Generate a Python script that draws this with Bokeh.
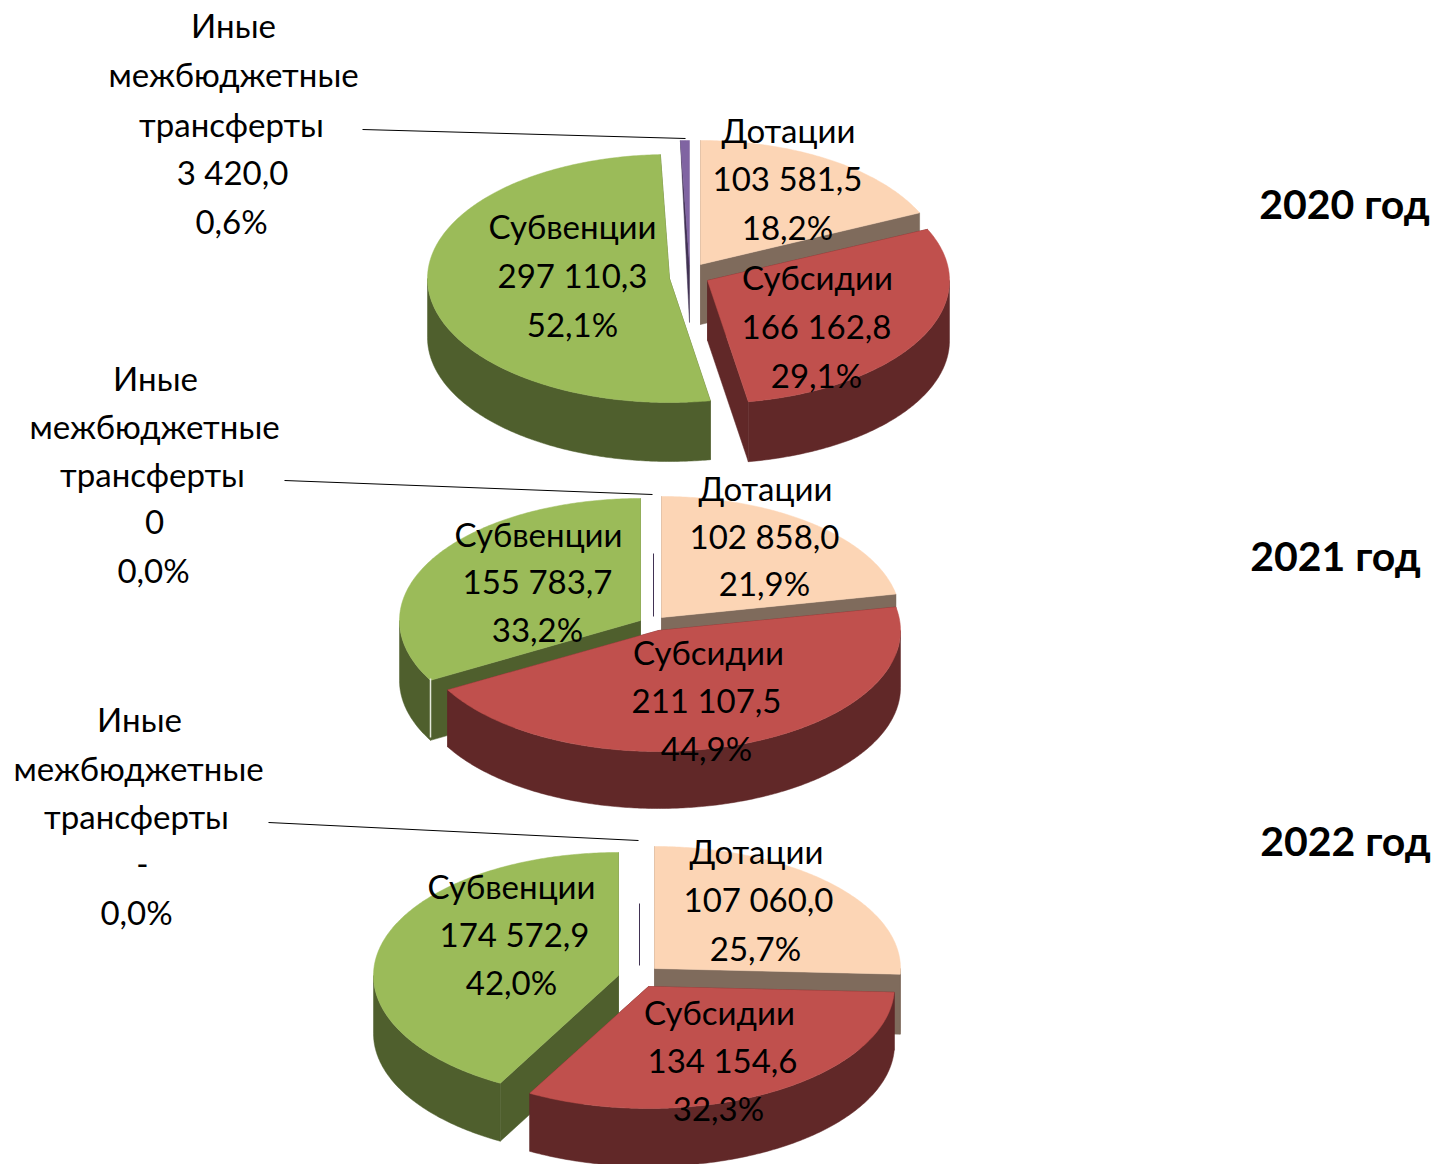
import math
from bokeh.plotting import figure, ColumnDataSource
from bokeh.models import Range1d
from bokeh.core.properties import value
from bokeh.embed import file_html
from bokeh.resources import INLINE

# ---------- data ----------
categories = ["Дотации", "Субсидии", "Субвенции", "Иные межбюджетные трансферты"]
years = ["2020 год", "2021 год", "2022 год"]
values_2020 = [103581.5, 166162.8, 297110.3, 3420.0]
values_2021 = [102858.0, 211107.5, 155783.7, 0.0]
values_2022 = [107060.0, 134154.6, 174572.9, 0.0]
amounts_2020 = ["103 581,5", "166 162,8", "297 110,3", "3 420,0"]
amounts_2021 = ["102 858,0", "211 107,5", "155 783,7", "0"]
amounts_2022 = ["107 060,0", "134 154,6", "174 572,9", "-"]
percents_2020 = ["18,2%", "29,1%", "52,1%", "0,6%"]
percents_2021 = ["21,9%", "44,9%", "33,2%", "0,0%"]
percents_2022 = ["25,7%", "32,3%", "42,0%", "0,0%"]

# ---------- styles / layout ----------
TOP = ["#FCD5B5", "#C0504D", "#9BBB59", "#8064A2"]
SIDE = ["#7F6B5C", "#612828", "#4F5F2D", "#413253"]
FONT = "Lato"
FS = "33px"
TEXT_DY = -2.5

# per slice: apex x, apex y, rx, ry, depth
geom_2020 = [(700, 264, 241, 124, 60), (707, 280, 242, 123, 60), (669, 278, 242, 124, 59), (689, 264, 242, 124, 58)]
geom_2021 = [(661, 617, 239, 121, 58), (658, 630, 242, 121, 57), (640, 620, 241, 122, 60), None]
geom_2022 = [(654, 968, 246, 122, 60), (648, 986, 246, 122, 58), (618, 975, 245, 123, 58), None]

# painter's order: back to front
ORDER = [0, 3, 2, 1]

xs, ys, cols = [], [], []


def rim(g, a, b, dy=0.0):
    cx, cy, rx, ry, _ = g
    n = max(2, int(abs(b - a) * 90))
    out = []
    for i in range(n + 1):
        t = a + (b - a) * i / n
        out.append((cx + rx * math.sin(t), cy - ry * math.cos(t) + dy))
    return out


def add(pts, col):
    xs.append([q[0] for q in pts])
    ys.append([q[1] for q in pts])
    cols.append(col)


def draw_pie(vals, geoms):
    total = sum(vals)
    angs = [0.0]
    for v in vals:
        angs.append(angs[-1] + v / total * 2 * math.pi)
    for i in ORDER:
        g = geoms[i]
        if g is None or vals[i] == 0:
            continue
        a, b = angs[i], angs[i + 1]
        cx, cy, rx, ry, d = g
        ap = (cx, cy)
        ap2 = (cx, cy + d)
        pa = rim(g, a, a)[0]
        pb = rim(g, b, b)[0]
        if vals[i] / total < 0.02:
            # a sliver: its cut faces collapse into one dark tapering blade
            add([pa, ap2, ap], SIDE[i])
        else:
            add([ap, pa, (pa[0], pa[1] + d), ap2], SIDE[i])
            add([ap, pb, (pb[0], pb[1] + d), ap2], SIDE[i])
            lo, hi = max(a, math.pi / 2), min(b, 3 * math.pi / 2)
            if hi > lo:
                add(rim(g, lo, hi) + rim(g, lo, hi, d)[::-1], SIDE[i])
        add([ap] + rim(g, a, b), TOP[i])


draw_pie(values_2020, geom_2020)
draw_pie(values_2021, geom_2021)
draw_pie(values_2022, geom_2022)

W, H = 1437, 1164
p = figure(width=W, height=H, output_backend="svg", toolbar_location=None,
           x_range=Range1d(0, W), y_range=Range1d(H, 0),
           min_border=0, outline_line_color=None, background_fill_color="white",
           border_fill_color="white")
p.axis.visible = False
p.xgrid.visible = False
p.ygrid.visible = False

p.patches("xs", "ys", source=ColumnDataSource(dict(xs=xs, ys=ys, c=cols)),
          fill_color="c", line_color="c", line_width=0.5)

# thin remnants of the zero slices and the white seam on the 2021 wall
p.segment([653, 639], [553, 903], [653, 639], [616, 965], line_color="#413253", line_width=1)
p.segment([430], [678], [430], [737], line_color="#E4E8DC", line_width=1.5)

# leader lines
p.segment([362, 284, 268], [129, 480, 822], [685, 652, 638], [138, 494, 840],
          line_color="black", line_width=1)

tx, ty, tt = [], [], []


def labels(name, amount, pct, pos):
    for s, (x, y) in zip([name, amount, pct], pos):
        tx.append(x); ty.append(y + TEXT_DY); tt.append(s)


labels(categories[0], amounts_2020[0], percents_2020[0], [(788, 132), (787, 180), (787, 229)])
labels(categories[1], amounts_2020[1], percents_2020[1], [(817, 279), (816, 328), (816, 377)])
labels(categories[2], amounts_2020[2], percents_2020[2], [(572, 228), (572, 277), (572, 326)])
labels(categories[0], amounts_2021[0], percents_2021[0], [(765, 490), (764, 538), (764, 585)])
labels(categories[1], amounts_2021[1], percents_2021[1], [(708, 654), (706, 702), (706, 750)])
labels(categories[2], amounts_2021[2], percents_2021[2], [(538, 536), (537, 583), (537, 631)])
labels(categories[0], amounts_2022[0], percents_2022[0], [(756, 853), (758, 901), (755, 950)])
labels(categories[1], amounts_2022[1], percents_2022[1], [(719, 1014), (722, 1062), (718, 1110)])
labels(categories[2], amounts_2022[2], percents_2022[2], [(511, 888), (514, 936), (511, 984)])

other = categories[3].split(" ")
for amount, pct, pos in [
    (amounts_2020[3], percents_2020[3], [(233, 27), (233, 76), (231, 126), (232, 174), (231, 223)]),
    (amounts_2021[3], percents_2021[3], [(155, 380), (154, 428), (152, 476), (154, 524), (153, 572)]),
    (amounts_2022[3], percents_2022[3], [(139, 721), (138, 770), (136, 818), (142, 866), (136, 914)]),
]:
    for s, (x, y) in zip(other + [amount, pct], pos):
        tx.append(x); ty.append(y + TEXT_DY); tt.append(s)

p.text(tx, ty, text=tt, text_font=value(FONT), text_font_size=FS, text_color="black",
       text_align="center", text_baseline="middle")

p.text([1344, 1335, 1345], [205 + TEXT_DY, 557 + TEXT_DY, 842 + TEXT_DY], text=years, text_font=value(FONT),
       text_font_size="41px", text_font_style="bold", text_color="black",
       text_align="center", text_baseline="middle")

open("out.html", "w").write(file_html(p, INLINE))
